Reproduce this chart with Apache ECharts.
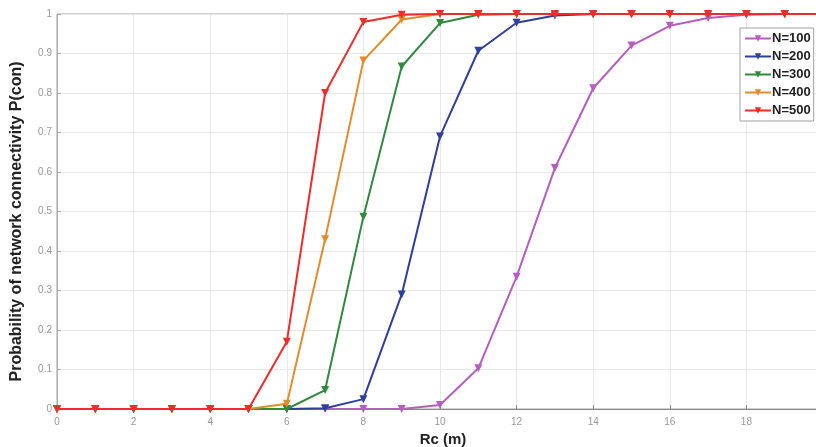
<!DOCTYPE html>
<html>
<head>
<meta charset="utf-8">
<script src="https://cdn.jsdelivr.net/npm/echarts@6/dist/echarts.min.js"></script>
<style>html,body{margin:0;padding:0;background:#fff}#c{width:816px;height:447px}</style>
</head>
<body>
<div id="c"></div>
<script>
const rc = [0,1,2,3,4,5,6,7,8,9,10,11,12,13,14,15,16,17,18,19,20];
const seriesNames = ['N=100','N=200','N=300','N=400','N=500'];
const n100 = [0,0,0,0,0,0,0,0,0,0,0.01,0.103,0.335,0.61,0.812,0.92,0.97,0.99,0.998,1,1];
const n200 = [0,0,0,0,0,0,0,0.002,0.025,0.29,0.69,0.907,0.978,0.996,1,1,1,1,1,1,1];
const n300 = [0,0,0,0,0,0,0,0.048,0.487,0.867,0.977,0.998,1,1,1,1,1,1,1,1,1];
const n400 = [0,0,0,0,0,0,0.013,0.43,0.882,0.986,1,1,1,1,1,1,1,1,1,1,1];
const n500 = [0,0,0,0,0,0,0.17,0.8,0.98,0.998,1,1,1,1,1,1,1,1,1,1,1];
const colors = ['#b45fbe','#2f3f9e','#2f8a3c','#e38b2c','#ee2c2c'];
const allData = [n100,n200,n300,n400,n500];

const chart = echarts.init(document.getElementById('c'), null, {renderer:'canvas'});
const series = allData.map((d,i)=>({
  name: seriesNames[i],
  type: 'line',
  data: rc.map((x,j)=>[x,d[j]]),
  symbol: 'triangle',
  symbolRotate: 180,
  symbolSize: 8,
  showAllSymbol: true,
  lineStyle: {width: 2, color: colors[i]},
  itemStyle: {color: colors[i]},
  z: 2 + i,
  animation: false
}));

chart.setOption({
  animation: false,
  grid: {left: 57, top: 14, right: -7, bottom: 38, show: true, borderColor: '#a0a0a0', borderWidth: 1,
         containLabel: false, outerBoundsMode: 'none'},
  legend: {
    orient: 'vertical',
    left: 740, top: 28,
    data: seriesNames,
    itemWidth: 26, itemHeight: 8, itemGap: 5,
    padding: [4,3,4,4],
    backgroundColor: '#fff',
    borderColor: '#a0a0a0', borderWidth: 1,
    textStyle: {fontFamily: 'Liberation Sans, Arial, sans-serif', fontWeight: 'bold', fontSize: 13, color: '#222', padding: [0,0,0,-4]}
  },
  xAxis: {
    type: 'value', min: 0, max: 20, interval: 2,
    name: 'Rc (m)', nameLocation: 'middle', nameGap: 21,
    nameTextStyle: {fontFamily: 'Liberation Sans, Arial, sans-serif', fontWeight: 'bold', fontSize: 15, color: '#222', padding: [0,0,0,6]},
    axisLine: {lineStyle: {color: '#888', width: 1}},
    axisTick: {inside: true, length: 4, lineStyle: {color: '#888'}},
    axisLabel: {fontFamily: 'Liberation Sans Narrow, Liberation Sans, Arial, sans-serif', fontSize: 10, color: '#999', margin: 8},
    splitLine: {show: true, lineStyle: {color: '#e8e8e8', width: 1}}
  },
  yAxis: {
    type: 'value', min: 0, max: 1, interval: 0.1,
    name: 'Probability of network connectivity P(con)', nameLocation: 'middle', nameGap: 32, nameRotate: 90,
    nameTextStyle: {fontFamily: 'Liberation Sans, Arial, sans-serif', fontWeight: 'bold', fontSize: 16, color: '#222', padding: [0,20,0,0]},
    axisLine: {show: true, lineStyle: {color: '#aaa', width: 1}},
    axisTick: {show: true, inside: true, length: 4, lineStyle: {color: '#aaa'}},
    axisLabel: {fontFamily: 'Liberation Sans Narrow, Liberation Sans, Arial, sans-serif', fontSize: 10, color: '#999', margin: 5,
      formatter: v => String(Math.round(v*10)/10)},
    splitLine: {show: true, lineStyle: {color: '#e8e8e8', width: 1}}
  },
  series: series
});
</script>
</body>
</html>
